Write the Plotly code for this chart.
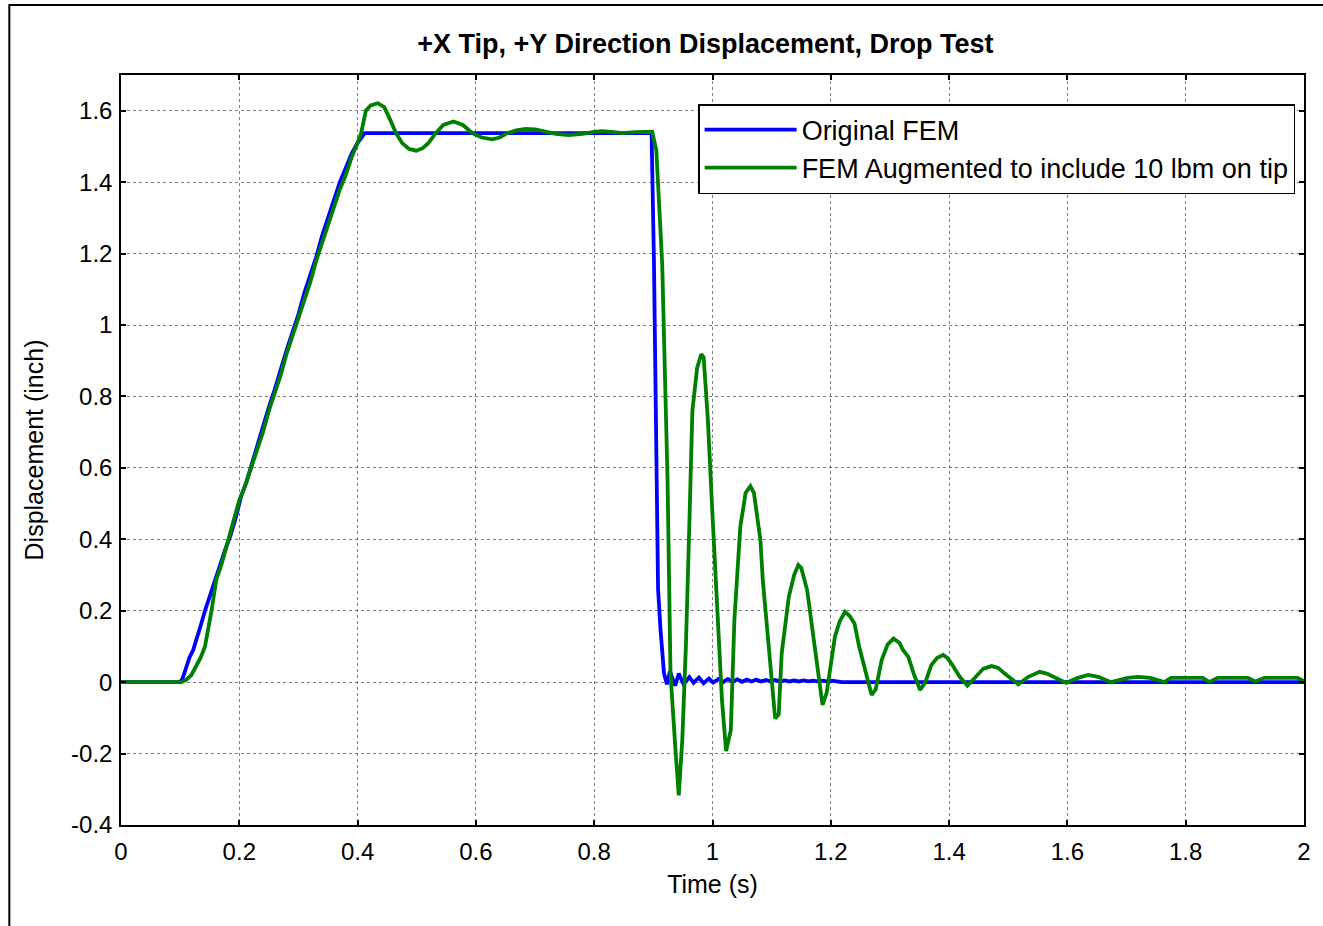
import plotly.graph_objects as go

# ---------------- data ----------------
t_orig = [0.000, 0.100, 0.104, 0.110, 0.116, 0.122, 0.128, 0.135, 0.142, 0.150,
          0.159, 0.168, 0.176, 0.185, 0.194, 0.203, 0.212, 0.221, 0.230, 0.240,
          0.250, 0.260, 0.270, 0.280, 0.290, 0.300, 0.310, 0.320, 0.330, 0.340,
          0.350, 0.360, 0.370, 0.380, 0.390, 0.400, 0.406, 0.412, 0.420, 0.897,
          0.901, 0.905, 0.908, 0.912, 0.918, 0.923, 0.928, 0.937, 0.943, 0.951,
          0.961, 0.968, 0.977, 0.985, 0.994, 1.001, 1.010, 1.018, 1.026, 1.034,
          1.042, 1.050, 1.058, 1.066, 1.074, 1.082, 1.090, 1.098, 1.106, 1.114,
          1.122, 1.130, 1.138, 1.146, 1.154, 1.162, 1.170, 1.178, 1.186, 1.194,
          1.202, 1.210, 1.218, 2.000]
d_orig = [0.000, 0.000, 0.010, 0.040, 0.070, 0.090, 0.120, 0.160, 0.200, 0.240,
          0.290, 0.330, 0.370, 0.410, 0.460, 0.520, 0.560, 0.610, 0.660, 0.720,
          0.770, 0.820, 0.880, 0.930, 0.980, 1.030, 1.090, 1.140, 1.190, 1.250,
          1.300, 1.350, 1.400, 1.440, 1.480, 1.510, 1.525, 1.537, 1.537, 1.537,
          1.180, 0.550, 0.260, 0.150, 0.024, -0.006, 0.030, -0.010, 0.024, -0.006,
          0.014, -0.002, 0.013, -0.003, 0.010, -0.001, 0.009, 0.000, 0.009, 0.001,
          0.008, 0.001, 0.007, 0.002, 0.007, 0.002, 0.006, 0.002, 0.006, 0.002,
          0.005, 0.002, 0.005, 0.002, 0.005, 0.002, 0.004, 0.002, 0.004, 0.002,
          0.004, 0.002, 0.000, 0.000]

t_aug = [0.000, 0.102, 0.110, 0.119, 0.128, 0.135, 0.142, 0.148, 0.153, 0.161,
         0.170, 0.180, 0.190, 0.200, 0.210, 0.220, 0.230, 0.240, 0.250, 0.260,
         0.270, 0.280, 0.290, 0.300, 0.310, 0.320, 0.330, 0.340, 0.350, 0.360,
         0.370, 0.380, 0.390, 0.400, 0.406, 0.414, 0.422, 0.434, 0.445, 0.455,
         0.465, 0.475, 0.487, 0.499, 0.510, 0.520, 0.532, 0.545, 0.562, 0.578,
         0.594, 0.610, 0.628, 0.640, 0.653, 0.668, 0.684, 0.700, 0.715, 0.735,
         0.757, 0.780, 0.800, 0.813, 0.830, 0.847, 0.870, 0.898, 0.905, 0.915,
         0.924, 0.929, 0.937, 0.943, 0.949, 0.955, 0.961, 0.966, 0.974, 0.981,
         0.985, 0.992, 0.999, 1.008, 1.016, 1.023, 1.031, 1.037, 1.047, 1.056,
         1.064, 1.070, 1.081, 1.085, 1.096, 1.106, 1.112, 1.117, 1.129, 1.138,
         1.145, 1.150, 1.160, 1.165, 1.176, 1.186, 1.193, 1.207, 1.215, 1.224,
         1.232, 1.240, 1.248, 1.258, 1.269, 1.276, 1.286, 1.296, 1.306, 1.316,
         1.322, 1.331, 1.341, 1.351, 1.360, 1.370, 1.380, 1.390, 1.397, 1.404,
         1.418, 1.431, 1.444, 1.458, 1.472, 1.483, 1.494, 1.505, 1.517, 1.534,
         1.553, 1.565, 1.576, 1.598, 1.618, 1.635, 1.652, 1.674, 1.702, 1.719,
         1.740, 1.753, 1.764, 1.775, 1.829, 1.840, 1.854, 1.905, 1.918, 1.933,
         1.989, 2.000]
d_aug = [0.000, 0.000, 0.006, 0.020, 0.048, 0.070, 0.100, 0.150, 0.200, 0.286,
         0.330, 0.390, 0.450, 0.510, 0.550, 0.600, 0.650, 0.700, 0.760, 0.810,
         0.860, 0.920, 0.970, 1.020, 1.070, 1.120, 1.180, 1.230, 1.280, 1.330,
         1.380, 1.420, 1.470, 1.510, 1.537, 1.600, 1.615, 1.621, 1.610, 1.575,
         1.537, 1.510, 1.493, 1.488, 1.495, 1.510, 1.537, 1.560, 1.570, 1.560,
         1.537, 1.525, 1.520, 1.525, 1.537, 1.545, 1.549, 1.548, 1.543, 1.535,
         1.532, 1.535, 1.541, 1.543, 1.541, 1.537, 1.540, 1.541, 1.490, 1.170,
         0.566, 0.025, -0.180, -0.317, -0.160, 0.100, 0.450, 0.760, 0.880, 0.918,
         0.910, 0.740, 0.500, 0.180, -0.050, -0.193, -0.134, 0.174, 0.435, 0.530,
         0.549, 0.530, 0.398, 0.286, 0.070, -0.102, -0.090, 0.081, 0.239, 0.300,
         0.328, 0.320, 0.258, 0.193, 0.062, -0.064, -0.030, 0.127, 0.170, 0.197,
         0.185, 0.164, 0.099, 0.030, -0.036, -0.020, 0.062, 0.105, 0.122, 0.110,
         0.090, 0.071, 0.020, -0.022, 0.000, 0.048, 0.068, 0.076, 0.068, 0.052,
         0.015, -0.010, 0.015, 0.038, 0.045, 0.040, 0.024, 0.008, -0.006, 0.015,
         0.029, 0.024, 0.015, -0.002, 0.012, 0.020, 0.015, 0.000, 0.012, 0.015,
         0.012, 0.004, 0.000, 0.012, 0.012, 0.000, 0.012, 0.012, 0.002, 0.012,
         0.012, 0.003]

x_tickvals = [0, 0.2, 0.4, 0.6, 0.8, 1.0, 1.2, 1.4, 1.6, 1.8, 2.0]
x_ticktext = ["0", "0.2", "0.4", "0.6", "0.8", "1", "1.2", "1.4", "1.6", "1.8", "2"]
y_tickvals = [-0.4, -0.2, 0, 0.2, 0.4, 0.6, 0.8, 1.0, 1.2, 1.4, 1.6]
y_ticktext = ["-0.4", "-0.2", "0", "0.2", "0.4", "0.6", "0.8", "1", "1.2", "1.4", "1.6"]

series_names = ["Original FEM", "FEM Augmented to include 10 lbm on tip"]
title_text = "+X Tip, +Y Direction Displacement, Drop Test"

FONT = "Liberation Sans, Arial, Helvetica, sans-serif"

fig = go.Figure()
fig.add_trace(go.Scatter(x=t_orig, y=d_orig, mode="lines", name=series_names[0],
                         line=dict(color="#0000FF", width=3.8)))
fig.add_trace(go.Scatter(x=t_aug, y=d_aug, mode="lines", name=series_names[1],
                         line=dict(color="#008000", width=3.8)))

axis_common = dict(
    showline=True, linecolor="black", linewidth=1.5, mirror="ticks",
    ticks="inside", ticklen=5, tickwidth=1.5, tickcolor="black",
    showgrid=True, gridcolor="rgba(0,0,0,0.5)", gridwidth=1, griddash="dot",
    zeroline=False,
    tickfont=dict(family=FONT, size=24, color="black"),
)

fig.update_layout(
    width=1323, height=926,
    margin=dict(l=121, r=16, t=75, b=101),
    paper_bgcolor="white", plot_bgcolor="white",
    font=dict(family=FONT, color="black"),
    title=dict(text=title_text, x=0.494, xref="paper", xanchor="center",
               y=1 - 44 / 926, yanchor="middle",
               font=dict(family=FONT, size=27, color="black", weight="bold")),
    xaxis=dict(range=[0, 2], tickvals=x_tickvals, ticktext=x_ticktext,
               ticklabelstandoff=4,
               title=dict(text="Time (s)", standoff=12,
                          font=dict(family=FONT, size=25, color="black")),
               **axis_common),
    yaxis=dict(range=[-0.4, 1.7], tickvals=y_tickvals, ticktext=y_ticktext,
               ticklabelstandoff=2,
               title=dict(text="Displacement (inch)", standoff=20,
                          font=dict(family=FONT, size=25, color="black")),
               **axis_common),
    legend=dict(x=0.9925, xanchor="right", y=0.9613, yanchor="top",
                bgcolor="white", bordercolor="black", borderwidth=1.5,
                font=dict(family=FONT, size=27, color="black"),
                itemwidth=92, tracegroupgap=0),
    showlegend=True,
    shapes=[dict(type="rect", xref="paper", yref="paper",
                 x0=-0.0944, x1=1.5, y0=-0.5, y1=1.0933,
                 line=dict(color="black", width=2), layer="above")],
)

fig.write_html("out.html")
